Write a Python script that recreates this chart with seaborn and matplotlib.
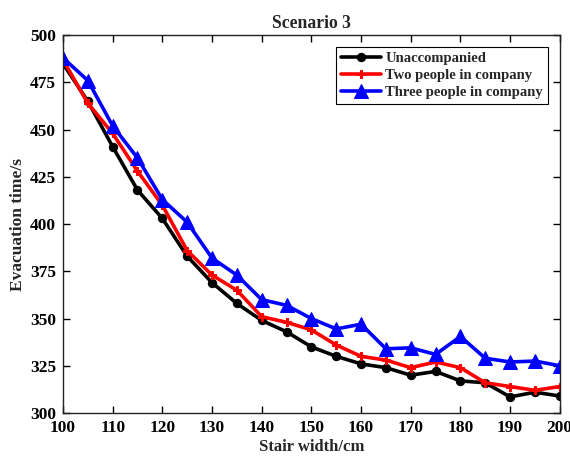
import pandas as pd
import matplotlib
matplotlib.use("Agg")
import matplotlib.pyplot as plt
import seaborn as sns

# stair width (cm)
widths = [100, 105, 110, 115, 120, 125, 130, 135, 140, 145, 150,
          155, 160, 165, 170, 175, 180, 185, 190, 195, 200]

# evacuation time (s)
unaccompanied = [485, 465, 441, 418, 403, 383, 369, 358, 349, 343, 335,
                 330, 326, 324, 320, 322, 317, 316, 308.5, 311, 309]
two_people = [487, 464, 448, 428, 410, 386, 373, 365, 351, 348, 344,
              336, 330, 328, 324, 327, 324, 316, 314, 312, 314]
three_people = [488, 476, 452, 435, 413, 401, 382, 373, 360, 357, 350,
                344.5, 347, 334, 334.5, 331, 340.5, 329, 327, 327.5, 325]

series_names = ["Unaccompanied", "Two people in company", "Three people in company"]

df = pd.DataFrame({
    "width": widths * 3,
    "time": unaccompanied + two_people + three_people,
    "series": [series_names[0]] * len(widths)
              + [series_names[1]] * len(widths)
              + [series_names[2]] * len(widths),
})

sns.set_style("ticks")
plt.rcParams["font.family"] = ["Liberation Serif", "DejaVu Serif"]
plt.rcParams["font.weight"] = "bold"

fig = plt.figure(figsize=(5.7, 4.57), dpi=100)
ax = fig.add_axes([0.1105, 0.0963, 0.8715, 0.8267])

palette = {series_names[0]: "black", series_names[1]: "red", series_names[2]: "blue"}
markers = {series_names[0]: "o", series_names[1]: "P", series_names[2]: "^"}
sizes = {series_names[0]: 6, series_names[1]: 6, series_names[2]: 10}

for name in series_names:
    sns.lineplot(
        data=df[df["series"] == name],
        x="width", y="time",
        color=palette[name],
        marker=markers[name],
        markersize=sizes[name],
        markeredgecolor=palette[name],
        linewidth=2.6,
        label=name,
        ax=ax,
    )

ax.set_xlim(100, 200)
ax.set_ylim(300, 500)
ax.set_xticks(range(100, 201, 10))
ax.set_yticks(range(300, 501, 25))
ax.tick_params(direction="in", top=True, right=True, length=5, width=1,
               labelsize=12.5, colors="black", pad=5)
for lbl in ax.get_xticklabels() + ax.get_yticklabels():
    lbl.set_fontweight("bold")
for sp in ax.spines.values():
    sp.set_visible(True)
    sp.set_linewidth(1)
    sp.set_color("#222222")

ax.set_title("Scenario 3", fontsize=12.7, fontweight="bold", pad=5)
ax.set_xlabel("Stair width/cm", fontsize=12, fontweight="bold", labelpad=2)
ax.set_ylabel("Evacuation time/s", fontsize=12.5, fontweight="bold", labelpad=3)

leg = ax.legend(loc="upper right", fontsize=10.5, frameon=True, fancybox=False,
                edgecolor="black", framealpha=1, borderpad=0.35,
                handlelength=2.7, handletextpad=0.3, labelspacing=0.25,
                borderaxespad=0.8)
leg.get_frame().set_linewidth(0.8)
for t in leg.get_texts():
    t.set_fontweight("bold")

fig.savefig("out.png", dpi=100)
